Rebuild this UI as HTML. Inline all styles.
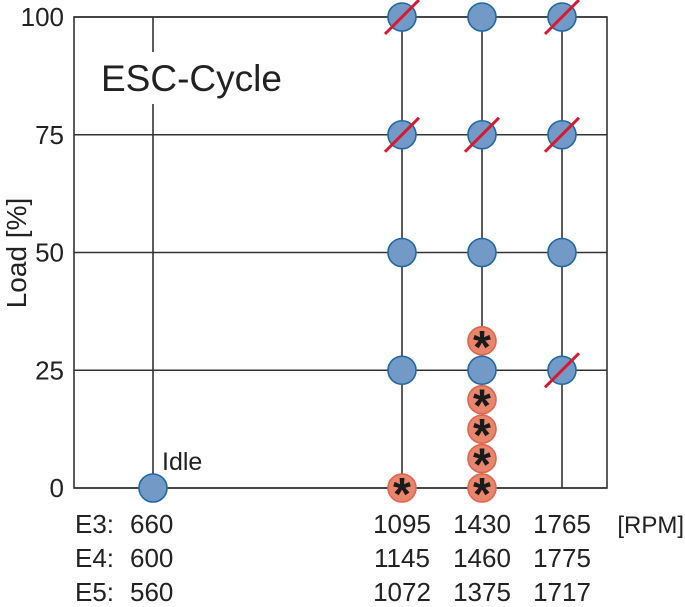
<!DOCTYPE html>
<html><head><meta charset="utf-8"><style>
html,body{margin:0;padding:0;background:#fff;}
svg{display:block;font-family:"Liberation Sans",Arial,sans-serif;}
</style></head><body>
<svg id="chart" width="685" height="607" viewBox="0 0 685 607">
<g id="grid"></g>
<text x="101" y="91" font-size="37" fill="#222">ESC-Cycle</text>
<text transform="translate(26,253) rotate(-90)" text-anchor="middle" font-size="28" fill="#222">Load [%]</text>
<g id="yticks"></g>
<g id="xlabels"></g>
<g id="marks"></g>
<text x="162" y="470" font-size="25" fill="#222">Idle</text>
</svg>
<script>
const loadTicks = [0, 25, 50, 75, 100];
const columnsE3 = [660, 1095, 1430, 1765];
const columnsE4 = [600, 1145, 1460, 1775];
const columnsE5 = [560, 1072, 1375, 1717];
const engineLabels = ["E3:", "E4:", "E5:"];
// blue operating points: column index, load, struck
const blueCol = [0, 1, 2, 3, 1, 2, 3, 1, 2, 3, 1, 2, 3];
const blueLoad = [0, 100, 100, 100, 75, 75, 75, 50, 50, 50, 25, 25, 25];
const blueStruck = [0, 1, 0, 1, 1, 1, 1, 0, 0, 0, 0, 0, 1];
// red star points
const starCol = [1, 2, 2, 2, 2, 2];
const starLoad = [0, 0, 6.25, 12.5, 18.75, 31.25];

const NS = "http://www.w3.org/2000/svg";
const L = 74, R = 607, T = 17, B = 488;
function y(v){ return B - (v/100)*(B-T); }
function x(i){ return i === 0 ? 153 : 402 + (i-1)*80; }
function mk(tag, attrs, parent){ const e = document.createElementNS(NS, tag); for (const k in attrs) e.setAttribute(k, attrs[k]); parent.appendChild(e); return e; }

const grid = document.getElementById('grid');
const ln = {stroke:"#333", "stroke-width":1.6, fill:"none"};
let f = mk('rect', Object.assign({x:L, y:T, width:R-L, height:B-T}, ln), grid);


loadTicks.forEach(v => {
  const g = mk('line', Object.assign({x1:L, x2:R, y1:y(v), y2:y(v)}, ln), grid);
  
  
});
columnsE3.forEach((c, i) => {
  if (i === 0) {
    const a = mk('line', Object.assign({x1:x(i), x2:x(i), y1:T, y2:52}, ln), grid);
    
    
    const b = mk('line', Object.assign({x1:x(i), x2:x(i), y1:104, y2:B}, ln), grid);
    
    
  } else {
    const a = mk('line', Object.assign({x1:x(i), x2:x(i), y1:T, y2:B}, ln), grid);
    
    
  }
});

const yt = document.getElementById('yticks');
loadTicks.forEach(v => {
  const t = mk('text', {x:64, y:y(v)+9, "text-anchor":"end", "font-size":26, fill:"#222"}, yt);
  t.textContent = v;
  
  
});

const xl = document.getElementById('xlabels');
[columnsE3, columnsE4, columnsE5].forEach((row, r) => {
  const yy = 533 + r*34;
  const e = mk('text', {x:75, y:yy, "font-size":26, fill:"#222"}, xl);
  e.textContent = engineLabels[r];
  
  
  row.forEach((v, i) => {
    const t = mk('text', {x: i === 0 ? 130 : x(i), y:yy, "text-anchor": i === 0 ? "start" : "middle", "font-size":26, fill:"#222"}, xl);
    t.textContent = v;
    
    
  });
});
const u = mk('text', {x:684, y:533, "text-anchor":"end", "font-size":24, fill:"#222"}, xl);
u.textContent = "[RPM]";



const marks = document.getElementById('marks');
blueCol.forEach((c, k) => {
  const cx = x(c), cy = y(blueLoad[k]);
  const ci = mk('circle', {cx:cx, cy:cy, r:14, fill:"#7399c6", stroke:"#1f68a6", "stroke-width":1.6}, marks);
  
  
  if (blueStruck[k]) {
    const s = mk('line', {x1:cx-17, y1:cy+17, x2:cx+17, y2:cy-17, stroke:"#d9172e", "stroke-width":3}, marks);
    
    
  }
});
starCol.forEach((c, k) => {
  const cx = x(c), cy = y(starLoad[k]);
  const ci = mk('circle', {cx:cx, cy:cy, r:14, fill:"#e8866d", stroke:"#e0654c", "stroke-width":1.6}, marks);
  
  
  const t = mk('text', {x:cx, y:cy+22, "text-anchor":"middle", "font-size":46, "font-weight":"bold", fill:"#1a1a1a"}, marks);
  t.textContent = "*";
  
  
});
</script>
</body></html>
